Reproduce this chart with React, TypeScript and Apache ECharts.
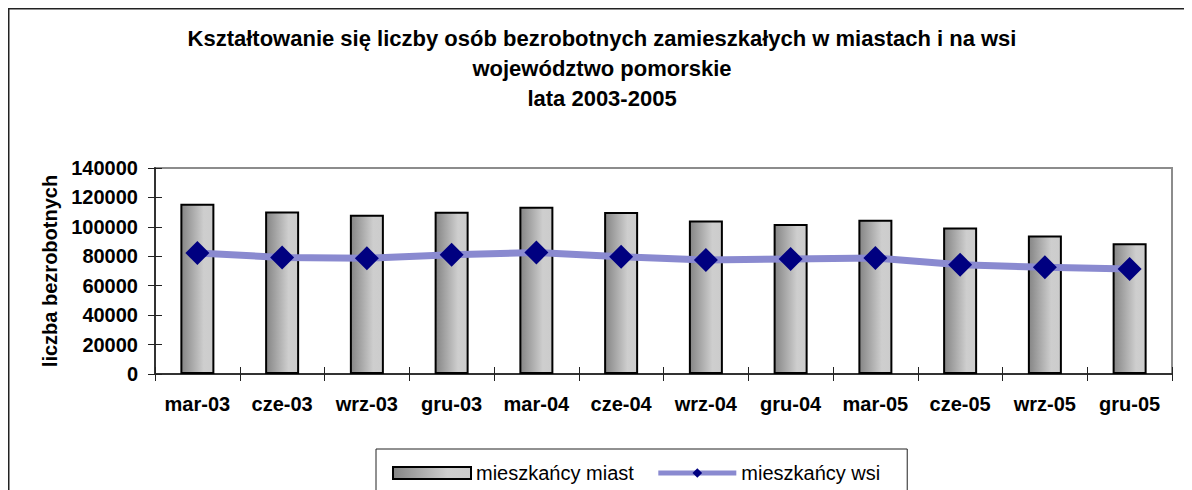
import React, { useEffect, useRef } from "react";
import * as echarts from "echarts";

const categories = ["mar-03", "cze-03", "wrz-03", "gru-03", "mar-04", "cze-04", "wrz-04", "gru-04", "mar-05", "cze-05", "wrz-05", "gru-05"];
const miasta = [115700, 110500, 108300, 110300, 113700, 110100, 104400, 101900, 104900, 99600, 94200, 88800];
const wsi = [82200, 79200, 78600, 81100, 82600, 79700, 77500, 78200, 78800, 74300, 72500, 71400];
const titleLines = [
  "Kształtowanie się liczby osób bezrobotnych zamieszkałych w miastach i na wsi",
  "województwo pomorskie",
  "lata 2003-2005",
];
const seriesNames = ["mieszkańcy miast", "mieszkańcy wsi"];
const yMin = 0;
const yMax = 140000;
const yInterval = 20000;
const yAxisName = "liczba bezrobotnych";

const FONT = "'Liberation Sans', Arial, Helvetica, sans-serif";

export default function App() {
  const ref = useRef<HTMLDivElement>(null);
  useEffect(() => {
    if (!ref.current) return;
    const chart = echarts.init(ref.current, undefined, { renderer: "svg" });
    const barGradient = new echarts.graphic.LinearGradient(0, 0, 1, 0, [
      { offset: 0, color: "#858585" },
      { offset: 0.7, color: "#cecece" },
      { offset: 1, color: "#cccccc" },
    ]);
    const titleY = [30, 60.5, 90.5];
    chart.setOption({
      animation: false,
      backgroundColor: "#ffffff",
      textStyle: { fontFamily: FONT },
      graphic: [
        {
          type: "rect",
          shape: { x: 0.75, y: 0.75, width: 1300, height: 700 },
          style: { fill: "none", stroke: "#222", lineWidth: 1.5 },
          silent: true,
        },
        ...titleLines.map((t, i) => ({
          type: "text",
          x: 594,
          y: titleY[i],
          style: {
            text: t,
            fontFamily: FONT,
            fontSize: 22,
            fontWeight: "bold",
            fill: "#000",
            align: "center",
            verticalAlign: "middle",
          },
          silent: true,
        })),
      ],
      grid: {
        left: 147,
        top: 160,
        width: 1017,
        height: 206,
        show: true,
        borderColor: "#8c8c8c",
        borderWidth: 2,
        backgroundColor: "transparent",
      },
      legend: {
        left: 368,
        top: 441,
        padding: [14, 27, 20, 16],
        borderColor: "#222",
        borderWidth: 1,
        itemWidth: 78,
        itemHeight: 12,
        itemGap: 22,
        textStyle: { fontFamily: FONT, fontSize: 20, color: "#000" },
        data: [
          { name: seriesNames[0], icon: "rect" },
          { name: seriesNames[1], lineStyle: { width: 5 } },
        ],
      },
      xAxis: [
        {
          type: "category",
          data: categories,
          position: "bottom",
          axisLine: { show: true, lineStyle: { color: "#333", width: 2 } },
          axisTick: { show: true, inside: false, length: 7, lineStyle: { color: "#222", width: 1 } },
          axisLabel: { fontFamily: FONT, fontSize: 20, fontWeight: "bold", color: "#000", margin: 20, interval: 0 },
          splitLine: { show: false },
        },
        {
          type: "category",
          data: categories,
          position: "bottom",
          axisLine: { show: false },
          axisTick: { show: true, inside: true, length: 7, interval: 0, lineStyle: { color: "#222", width: 1 } },
          axisLabel: { show: false },
          splitLine: { show: false },
        },
      ],
      yAxis: [
        {
          type: "value",
          min: yMin,
          max: yMax,
          interval: yInterval,
          position: "left",
          name: yAxisName,
          nameLocation: "middle",
          nameGap: 91,
          nameTextStyle: { fontFamily: FONT, fontSize: 20, fontWeight: "bold", color: "#000" },
          axisLine: { show: true, lineStyle: { color: "#333", width: 2 } },
          axisTick: { show: true, inside: false, length: 7, lineStyle: { color: "#222", width: 1 } },
          axisLabel: {
            fontFamily: FONT,
            fontSize: 20,
            fontWeight: "bold",
            color: "#000",
            margin: 17,
            formatter: (v: number) => String(v),
          },
          splitLine: { show: false },
        },
        {
          type: "value",
          min: yMin,
          max: yMax,
          interval: yInterval,
          position: "left",
          axisLine: { show: false },
          axisTick: { show: true, inside: true, length: 7, lineStyle: { color: "#222", width: 1 } },
          axisLabel: { show: false },
          splitLine: { show: false },
        },
      ],
      series: [
        {
          name: seriesNames[0],
          type: "bar",
          data: miasta,
          barWidth: 34,
          itemStyle: { color: barGradient, borderColor: "#000", borderWidth: 2 },
          z: 2,
        },
        {
          name: seriesNames[1],
          type: "line",
          data: wsi,
          symbol: "diamond",
          symbolSize: 24,
          lineStyle: { color: "#8a8ad0", width: 7 },
          itemStyle: { color: "#000080", borderWidth: 0 },
          z: 3,
        },
      ],
    });
    return () => chart.dispose();
  }, []);
  return <div ref={ref} style={{ width: 1184, height: 482 }} />;
}
